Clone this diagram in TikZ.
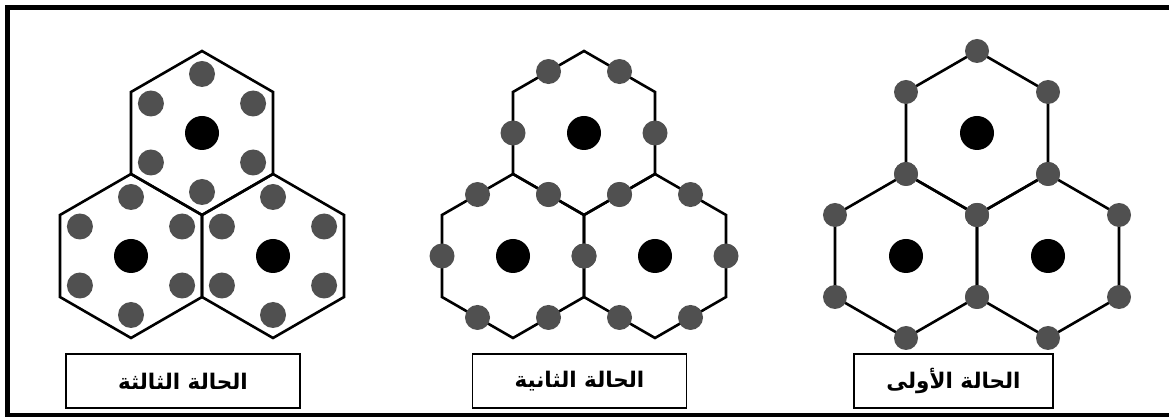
\documentclass[tikz,border=0pt]{standalone}
\usepackage{fontspec}
\usepackage{xcolor}
\usepackage{tikz}
\usetikzlibrary{positioning}
\TeXXeTstate=1
\newfontfamily\arabicfont[Script=Arabic]{DejaVu Sans}
\definecolor{dotgrey}{HTML}{505050}
\tikzset{
  hexline/.style={line width=2.6pt, line join=miter},
  atom/.style={fill=dotgrey},
  core/.style={fill=black},
  caption/.style={draw, line width=1.8pt, minimum height=54pt, inner sep=0pt, font=\arabicfont\bfseries\fontsize{21.5}{24}\selectfont},
  frame/.style={draw, line width=5pt}
}
\newcommand{\hexR}{82}
\newcommand{\hexcell}[3]{%
  \begin{scope}[shift={(#1,#2)}]
    \coordinate (#3) at (0,0);
    \draw[hexline] (90:\hexR) -- (150:\hexR) -- (210:\hexR) -- (270:\hexR) -- (330:\hexR) -- (30:\hexR) -- cycle;
    \fill[core] (0,0) circle (17pt);
  \end{scope}
}

\begin{document}
\begin{tikzpicture}[x=1pt, y=1pt]
        \useasboundingbox (0,0) rectangle (1169,417);
        % Outer frame
        \draw[frame] (7.5,1.5) rectangle (1172,409.5);

        % Case three (left): atoms inside the cells
        \hexcell{202}{284}{lt}
        \hexcell{131}{161}{ll}
        \hexcell{273}{161}{lr}
        \foreach \c in {lt,ll,lr}
          \foreach \a in {90,150,...,390}
            \fill[atom] (\c) ++(\a:59) circle (13pt);

        % Case two (middle): atoms on the edges
        \hexcell{584}{284}{mt}
        \hexcell{513}{161}{ml}
        \hexcell{655}{161}{mr}
        \foreach \c in {mt,ml,mr}
          \foreach \a in {0,60,...,300}
            \fill[atom] (\c) ++(\a:71) circle (12.5pt);

        % Case one (right): atoms on the corners
        \hexcell{977}{284}{rt}
        \hexcell{906}{161}{rl}
        \hexcell{1048}{161}{rr}
        \foreach \c in {rt,rl,rr}
          \foreach \a in {30,90,...,330}
            \fill[atom] (\c) ++(\a:\hexR) circle (12pt);

        % Captions
        \node[caption, minimum width=234pt] (third)  at (183,36)   {\beginR الحالة الثالثة\endR};
        \node[caption, minimum width=214pt] (second) at (579.5,36) {\beginR الحالة الثانية\endR};
        \node[caption, minimum width=199pt] (first)  at (953.5,36) {\beginR الحالة الأولى\endR};
    \end{tikzpicture}
\end{document}
